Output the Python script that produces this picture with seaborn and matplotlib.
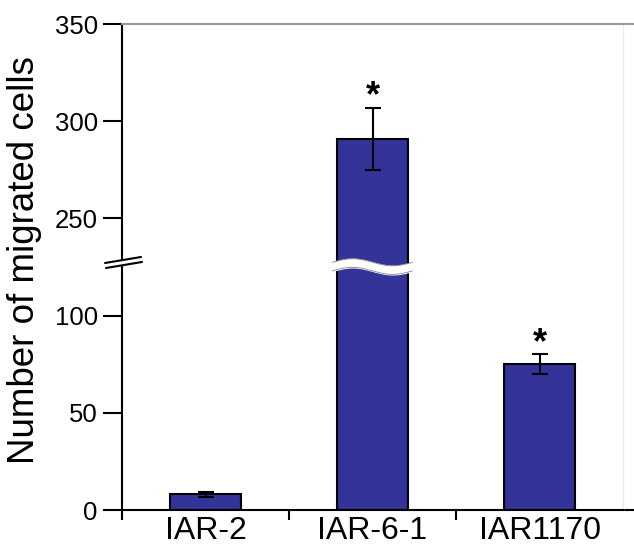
import numpy as np
import seaborn as sns
import matplotlib.pyplot as plt
from matplotlib.lines import Line2D
from matplotlib.patches import Polygon

categories = ['IAR-2', 'IAR-6-1', 'IAR1170']
cells = [8, 291, 75]
sem = [1.5, 16, 5]
marks = ['', '*', '*']

low_ticks = [0, 50, 100]
high_ticks = [250, 300, 350]

sns.set_style("ticks")
plt.rcParams['font.family'] = ['Liberation Sans', 'DejaVu Sans']
plt.rcParams.update({'text.color': 'black', 'axes.edgecolor': 'black',
                     'xtick.color': 'black', 'ytick.color': 'black',
                     'axes.labelcolor': 'black'})

W, H = 634, 547
fig = plt.figure(figsize=(W / 100, H / 100), dpi=100)

left, right = 122 / W, 623 / W
y0, ybrk, ytop = 1 - 510 / H, 1 - 265 / H, 1 - 24 / H

# top part first so the lower one (with the wave) is drawn over it
ax_hi = fig.add_axes([left, ybrk, right - left, ytop - ybrk])
ax_lo = fig.add_axes([left, y0, right - left, ybrk - y0])

bar_color = '#333399'
for ax in (ax_hi, ax_lo):
    ax.set_facecolor('none')
    sns.barplot(x=categories, y=cells, ax=ax, color=bar_color, saturation=1,
                width=0.42, edgecolor='black', linewidth=1.5, errorbar=None)
    ax.errorbar(range(len(categories)), cells, yerr=sem, fmt='none',
                ecolor='black', elinewidth=1.5, capsize=6, capthick=1.5)
    ax.set_xlim(-0.5, 2.5)
    ax.set_xlabel('')
    ax.set_ylabel('')
    ax.tick_params(axis='y', length=13.5, width=1.5, labelsize=18.5, pad=4)
    ax.spines['left'].set_linewidth(1.5)
    ax.spines['right'].set_color('#ececec')
    ax.spines['right'].set_linewidth(1)

ax_lo.set_ylim(0, 126)
ax_hi.set_ylim(226, 350)
ax_lo.set_yticks(low_ticks)
ax_hi.set_yticks(high_ticks)

ax_hi.spines['bottom'].set_visible(False)
ax_hi.spines['top'].set_color('#999999')
ax_hi.spines['top'].set_linewidth(1.5)
ax_hi.tick_params(axis='x', which='both', bottom=False, labelbottom=False)
ax_lo.spines['top'].set_visible(False)
ax_lo.spines['bottom'].set_linewidth(1.5)

# ticks between groups, labels at the group centres
ax_lo.set_xticks([-0.5, 0.5, 1.5])
ax_lo.set_xticklabels(['', '', ''])
ax_lo.tick_params(axis='x', which='major', length=7, width=1.5)
ax_lo.set_xticks(range(len(categories)), minor=True)
ax_lo.set_xticklabels(categories, minor=True)
ax_lo.tick_params(axis='x', which='minor', length=0, labelsize=23, pad=4)

# lines run past the right spine to the edge
ax_lo.plot([1, 1.03], [0, 0], transform=ax_lo.transAxes, color='black',
           lw=1.5, clip_on=False)
ax_hi.plot([1, 1.03], [1, 1], transform=ax_hi.transAxes, color='#999999',
           lw=1.5, clip_on=False)

# stars over the error bars
for i, m in enumerate(marks):
    if m:
        target = ax_hi if cells[i] > 200 else ax_lo
        target.annotate(m, (i, cells[i] + sem[i]), xytext=(0, 7.5),
                        textcoords='offset points', ha='center',
                        va='center', fontsize=26, fontweight='bold',
                        annotation_clip=False)

# wavy break across the tall bar
xs = np.linspace(1 - 0.24, 1 + 0.24, 80)
mid = 125.2 + 1.8 * np.sin((xs - 1) / 0.24 * np.pi + np.pi)
upper = mid + 2.2
lower = mid - 2.2
ax_lo.fill_between(xs, lower, upper, color='white', clip_on=False, zorder=5)
ax_lo.plot(xs, upper, color='#888888', lw=0.6, clip_on=False, zorder=6)
ax_lo.plot(xs, lower, color='#888888', lw=0.6, clip_on=False, zorder=6)

# break marks on the y axis
def fpt(px, py):
    return (px / W, 1 - py / H)

gap = Polygon([fpt(110, 262), fpt(136, 258), fpt(136, 263), fpt(110, 267)],
              closed=True, transform=fig.transFigure, facecolor='white',
              edgecolor='none')
fig.add_artist(gap)
for (ax_, ay_), (bx_, by_) in [((105, 263), (141, 257)), ((106, 268), (142, 262))]:
    p1, p2 = fpt(ax_, ay_), fpt(bx_, by_)
    fig.add_artist(Line2D([p1[0], p2[0]], [p1[1], p2[1]],
                          transform=fig.transFigure, color='black', lw=1.5))

fig.text(25 / W, 1 - 260 / H, 'Number of migrated cells', rotation=90,
         ha='center', va='center', fontsize=26.5)

plt.savefig('out.png', dpi=100)
